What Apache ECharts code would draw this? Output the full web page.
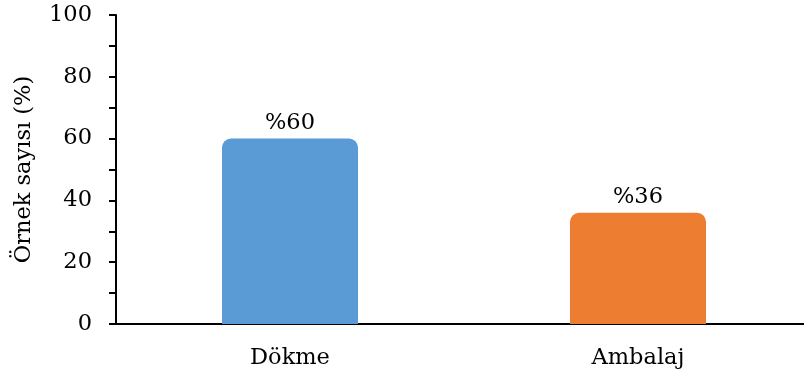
<!DOCTYPE html>
<html>
<head>
<meta charset="utf-8">
<script src="https://cdn.jsdelivr.net/npm/echarts@6/dist/echarts.min.js"></script>
<style>
  html, body { margin: 0; padding: 0; background: #fff; }
  #chart { width: 804px; height: 380px; }
</style>
</head>
<body>
<div id="chart"></div>
<script>
// Packaging types and share of samples (%)
const categories = ['Dökme', 'Ambalaj'];
const values = [60, 36];
const barColors = ['#5B9BD5', '#ED7D31'];
const yTicks = [0, 20, 40, 60, 80, 100];

const FONT = 'DejaVu Serif';
const FS = 22.5;

const chart = echarts.init(document.getElementById('chart'));
chart.setOption({
  animation: false,
  backgroundColor: '#ffffff',
  grid: { left: 116, top: 15, width: 696, height: 309, containLabel: false, outerBoundsMode: 'none' },
  xAxis: {
    type: 'category',
    data: categories,
    axisLine: { show: true, lineStyle: { color: '#000', width: 2 } },
    axisTick: { show: false },
    axisLabel: { color: '#000', fontFamily: FONT, fontSize: FS, margin: 23 }
  },
  yAxis: {
    type: 'value',
    min: yTicks[0],
    max: yTicks[yTicks.length - 1],
    interval: 20,
    name: 'Örnek sayısı (%)',
    nameLocation: 'middle',
    nameGap: 80,
    nameRotate: 90,
    nameTextStyle: { color: '#000', fontFamily: FONT, fontSize: FS },
    axisLine: { show: true, lineStyle: { color: '#000', width: 2 } },
    axisTick: { show: true, inside: false, length: 7, lineStyle: { color: '#000', width: 2 } },
    minorTick: { show: true, splitNumber: 2, length: 7, lineStyle: { color: '#000', width: 2 } },
    splitLine: { show: false },
    axisLabel: { color: '#000', fontFamily: FONT, fontSize: FS, margin: 24 }
  },
  series: [{
    type: 'bar',
    barWidth: 136,
    data: values.map((v, i) => ({ value: v, itemStyle: { color: barColors[i] } })),
    itemStyle: { borderRadius: [9, 9, 0, 0] },
    label: {
      show: true,
      position: 'top',
      distance: 4,
      color: '#000',
      fontFamily: FONT,
      fontSize: FS,
      formatter: p => '%' + p.value
    }
  }]
});
</script>
</body>
</html>
